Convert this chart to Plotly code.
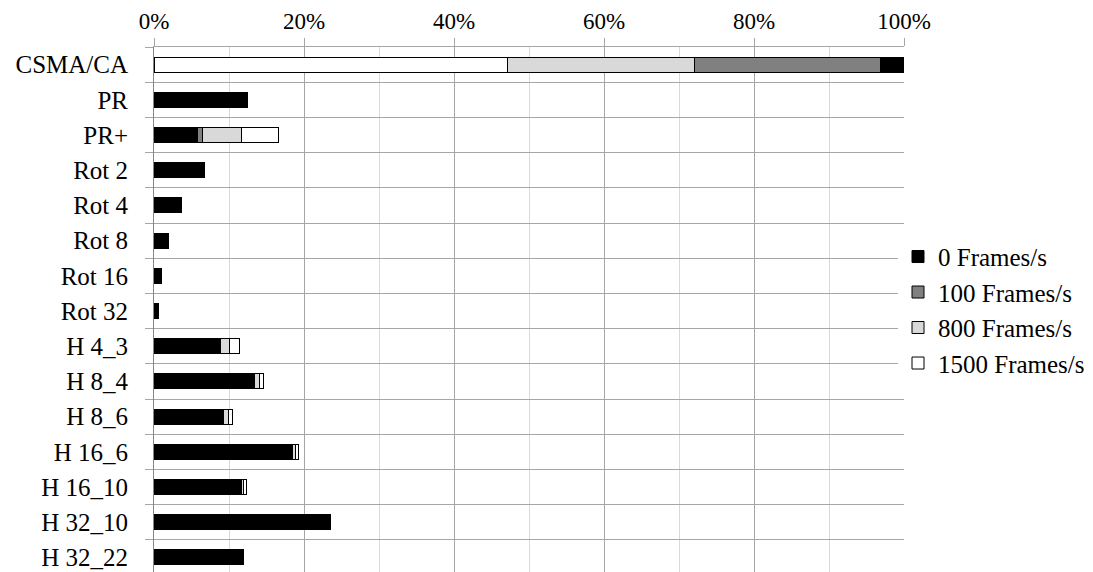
import plotly.graph_objects as go

categories = ['CSMA/CA', 'PR', 'PR+', 'Rot 2', 'Rot 4', 'Rot 8', 'Rot 16', 'Rot 32',
              'H 4_3', 'H 8_4', 'H 8_6', 'H 16_6', 'H 16_10', 'H 32_10', 'H 32_22']

# share of time per load level, in percent
fps_0 = [3.2, 12.4, 5.8, 6.7, 3.6, 1.95, 1.0, 0.6, 8.9, 13.4, 9.3, 18.5, 11.6, 23.5, 11.9]
fps_100 = [24.8, 0, 0.7, 0, 0, 0, 0, 0, 0, 0, 0, 0, 0, 0, 0]
fps_800 = [24.9, 0, 5.1, 0, 0, 0, 0, 0, 1.1, 0.6, 0.6, 0.3, 0.3, 0, 0]
fps_1500 = [47.1, 0, 5.0, 0, 0, 0, 0, 0, 1.4, 0.6, 0.6, 0.4, 0.4, 0, 0]

series = [
    ('0 Frames/s', fps_0, '#000000'),
    ('100 Frames/s', fps_100, '#808080'),
    ('800 Frames/s', fps_800, '#d9d9d9'),
    ('1500 Frames/s', fps_1500, '#ffffff'),
]

FONT = 'Liberation Serif'

fig = go.Figure()

# CSMA/CA is stacked the other way round (1500 first)
for name, vals, color in reversed(series[1:]):
    fig.add_trace(go.Bar(
        y=categories[:1], x=vals[:1], orientation='h', name=name,
        marker=dict(color=color, line=dict(color='#000000', width=1)),
        showlegend=False,
    ))

for name, vals, color in series:
    xs = [None if v == 0 else v for v in vals]
    if name != '0 Frames/s':
        xs[0] = None
    fig.add_trace(go.Bar(
        y=categories, x=xs, orientation='h', name=name, legendgroup=name,
        marker=dict(color=color, line=dict(color='#000000', width=1)),
    ))

# page body has an 8px margin, so the margins are shifted by 8px
fig.update_layout(
    barmode='stack',
    bargap=0.575,
    width=1093, height=572,
    margin=dict(l=146, r=197, t=39, b=0),
    paper_bgcolor='white', plot_bgcolor='white',
    font=dict(family=FONT, size=23, color='#000000'),
    legend=dict(x=0.992, xanchor='left', y=0.507, yanchor='middle',
                font=dict(family=FONT, size=25), tracegroupgap=0,
                itemwidth=30),
)

fig.update_xaxes(
    side='top', range=[0, 100], dtick=20, ticksuffix='%', automargin=False,
    tickfont=dict(size=23),
    showgrid=True, gridcolor='#a6a6a6', gridwidth=1,
    minor=dict(dtick=10, showgrid=True, gridcolor='#d9d9d9', ticks=''),
    showline=True, linecolor='#a6a6a6', linewidth=1,
    ticks='outside', ticklen=8, tickcolor='#a6a6a6',
    zeroline=False,
)

fig.update_yaxes(
    type='category', range=[14.64, -0.5], automargin=False,
    tickfont=dict(size=25),
    tickson='boundaries', ticks='outside', ticklen=8, tickcolor='#a6a6a6',
    ticklabelstandoff=20,
    showgrid=True, gridcolor='#a6a6a6', gridwidth=1,
    showline=True, linecolor='#868686', linewidth=1,
    zeroline=False,
)

fig.write_html('out.html')
